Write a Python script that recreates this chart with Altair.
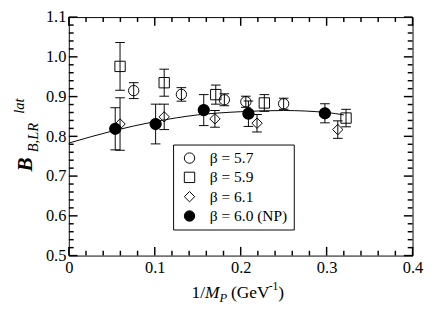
import altair as alt
import pandas as pd

SERIF = "Liberation Serif"

# ---- data ----
names = ["β = 5.7", "β = 5.9", "β = 6.1", "β = 6.0 (NP)"]

x_57 = [0.0755, 0.131, 0.181, 0.206, 0.250]
y_57 = [0.915, 0.9055, 0.892, 0.887, 0.882]
e_57 = [0.020, 0.017, 0.015, 0.014, 0.014]

x_59 = [0.0596, 0.111, 0.171, 0.2275, 0.3226]
y_59 = [0.976, 0.935, 0.905, 0.884, 0.846]
e_59 = [0.060, 0.034, 0.024, 0.021, 0.022]

x_61 = [0.0596, 0.111, 0.170, 0.219, 0.313]
y_61 = [0.831, 0.849, 0.844, 0.833, 0.817]
e_61 = [0.066, 0.032, 0.021, 0.022, 0.022]

x_np = [0.054, 0.101, 0.157, 0.209, 0.298]
y_np = [0.819, 0.831, 0.866, 0.857, 0.858]
e_np = [0.053, 0.050, 0.039, 0.032, 0.024]

fit_x = [0.0, 0.05, 0.10, 0.15, 0.20, 0.25, 0.30, 0.32]
fit_y = [0.783, 0.813, 0.837, 0.854, 0.862, 0.865, 0.860, 0.854]

x_lo, x_hi = 0.0, 0.4
y_lo, y_hi = 0.5, 1.1
x_major = [0.0, 0.1, 0.2, 0.3, 0.4]
x_minor = [0.02, 0.04, 0.06, 0.08, 0.12, 0.14, 0.16, 0.18, 0.22, 0.24,
           0.26, 0.28, 0.32, 0.34, 0.36, 0.38]
y_major = [0.5, 0.6, 0.7, 0.8, 0.9, 1.0, 1.1]
y_minor = [0.52, 0.54, 0.56, 0.58, 0.62, 0.64, 0.66, 0.68, 0.72, 0.74, 0.76,
           0.78, 0.82, 0.84, 0.86, 0.88, 0.92, 0.94, 0.96, 0.98, 1.02, 1.04,
           1.06, 1.08]

rows = []
for name, xs, ys, es in [(names[0], x_57, y_57, e_57), (names[1], x_59, y_59, e_59),
                         (names[2], x_61, y_61, e_61), (names[3], x_np, y_np, e_np)]:
    for xv, yv, ev in zip(xs, ys, es):
        rows.append({"series": name, "x": xv, "y": yv, "lo": yv - ev, "hi": yv + ev})
df = pd.DataFrame(rows)
fit = pd.DataFrame({"x": fit_x, "y": fit_y})
one = pd.DataFrame({"a": [0]})

W, H = 356, 247
XS = alt.Scale(domain=[x_lo, x_hi], nice=False, zero=False)
YS = alt.Scale(domain=[y_lo, y_hi], nice=False, zero=False)

x_main = alt.Axis(orient="bottom", values=x_major, ticks=False, tickSize=0,
                  labelFont=SERIF, labelFontSize=17, labelColor="black",
                  labelPadding=5, labelFlush=False, labelOverlap=False,
                  domain=False, grid=False, title=None, format="~g")
y_main = alt.Axis(orient="left", values=y_major, ticks=False, tickSize=0,
                  labelFont=SERIF, labelFontSize=17, labelColor="black",
                  labelPadding=3, labelFlush=False, labelOverlap=False,
                  domain=False, grid=False, title=None, format=".1f")

fit_layer = alt.Chart(fit).mark_line(color="black", strokeWidth=1, interpolate="monotone").encode(
    x=alt.X("x:Q", scale=XS, axis=x_main),
    y=alt.Y("y:Q", scale=YS, axis=y_main),
)


# inward frame ticks: tick values on one axis, the frame edge on the other
def frame_ticks(values, length):
    layers = []
    for edge, off in [(y_lo, -length / 2), (y_hi, length / 2)]:
        d = pd.DataFrame({"x": values, "y": [edge] * len(values)})
        layers.append(alt.Chart(d).mark_tick(orient="vertical", size=length, thickness=1.5,
                                             color="black", opacity=1, yOffset=off)
                      .encode(x="x:Q", y="y:Q"))
    return layers


def frame_yticks(values, length):
    layers = []
    for edge, off in [(x_lo, length / 2), (x_hi, -length / 2)]:
        d = pd.DataFrame({"y": values, "x": [edge] * len(values)})
        layers.append(alt.Chart(d).mark_tick(orient="horizontal", size=length, thickness=1.5,
                                             color="black", opacity=1, xOffset=off)
                      .encode(x="x:Q", y="y:Q"))
    return layers


tick_layers = (frame_ticks(x_major, 9) + frame_ticks(x_minor, 5)
               + frame_yticks(y_major, 9) + frame_yticks(y_minor, 5))

rule_layer = alt.Chart(df).mark_rule(color="black", strokeWidth=1).encode(
    x="x:Q", y="lo:Q", y2="hi:Q",
)
lo_cap = alt.Chart(df).mark_tick(orient="horizontal", size=10, thickness=1,
                                 color="black", opacity=1).encode(x="x:Q", y="lo:Q")
hi_cap = alt.Chart(df).mark_tick(orient="horizontal", size=10, thickness=1,
                                 color="black", opacity=1).encode(x="x:Q", y="hi:Q")

leg = alt.Legend(title=None, orient="none", legendX=108, legendY=132,
                 strokeColor="black", fillColor="white", padding=6,
                 rowPadding=4, labelFont=SERIF, labelFontSize=16,
                 labelColor="black", symbolSize=115, symbolStrokeColor="black",
                 symbolStrokeWidth=1, symbolOffset=3, labelOffset=13)

points = alt.Chart(df).mark_point(strokeWidth=1, opacity=1, size=115).encode(
    x="x:Q", y="y:Q",
    shape=alt.Shape("series:N", scale=alt.Scale(domain=names, range=["circle", "square", "diamond", "circle"]), legend=leg),
    fill=alt.Fill("series:N", scale=alt.Scale(domain=names, range=["transparent", "transparent", "transparent", "black"]), legend=leg),
    stroke=alt.Stroke("series:N", scale=alt.Scale(domain=names, range=["black", "black", "black", "black"]), legend=leg),
)

# the filled (NP) symbols are a little larger in the reference
np_big = alt.Chart(df).transform_filter(alt.datum.series == names[3]).mark_circle(
    size=160, color="black", opacity=1).encode(x="x:Q", y="y:Q")


def label(text, x, y, size, style="normal", weight="normal", angle=0, align="left"):
    return alt.Chart(one).mark_text(text=text, font=SERIF, fontSize=size, fontStyle=style,
                                    fontWeight=weight, angle=angle, align=align,
                                    baseline="alphabetic", color="black").encode(
        x=alt.value(x), y=alt.value(y))


# y title: B^{lat}_{B,LR} (rotated)
yt_B = label("B", -38, 160, 22, "italic", "bold", 270)
yt_sub = label("B,LR", -32, 140, 15, "italic", "normal", 270)
yt_sup = label("lat", -46, 100, 15, "italic", "normal", 270)

# x title: 1/M_P (GeV^-1)
bx, by = 127, 291
xt1 = label("1/", bx, by, 18)
xt2 = label("M", bx + 14, by, 18, "italic")
xt3 = label("P", bx + 29, by + 4, 13, "italic")
xt4 = label("(GeV", bx + 41, by, 18)
xt5 = label("-1", bx + 80, by - 8, 12)
xt6 = label(")", bx + 90, by, 18)

chart = alt.layer(
    fit_layer, *tick_layers, rule_layer, lo_cap, hi_cap, points, np_big,
    yt_B, yt_sub, yt_sup, xt1, xt2, xt3, xt4, xt5, xt6,
).properties(
    width=W, height=H,
    padding={"left": 5, "top": -5, "right": 5, "bottom": 2},
).configure_view(stroke="black", strokeWidth=1)

chart.save("out.html", embed_options={"renderer": "svg", "actions": False})
